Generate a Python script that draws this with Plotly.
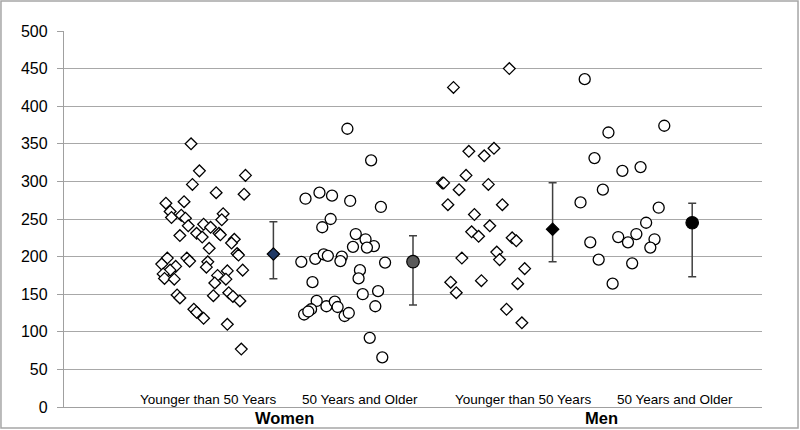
import plotly.graph_objects as go

# ---------------- data ----------------
women_young_x = [0.91, 0.97, 1.30, 0.92, 1.09, 1.29, 0.73, 0.86, 0.76, 0.77, 0.84, 0.87, 1.14, 1.13,
                 0.89, 1.00, 1.05, 0.95, 0.83, 0.99, 1.11, 1.12, 1.22, 1.20, 1.04, 1.24, 1.25, 0.74,
                 0.88, 0.90, 1.03, 0.70, 0.80, 1.02, 0.76, 1.28, 1.17, 0.71, 1.10, 0.72, 0.79, 1.16,
                 1.08, 0.81, 0.83, 1.07, 1.18, 1.21, 1.26, 0.93, 0.95, 1.00, 1.17, 1.27]
women_young_y = [350, 314, 308, 296, 285, 283, 271, 273, 260, 252, 255, 251, 257, 249,
                 241, 243, 239, 231, 228, 226, 231, 229, 223, 218, 211, 204, 202, 198,
                 198, 194, 193, 190, 187, 186, 182, 182, 181, 177, 175, 171, 170, 170,
                 165, 149, 145, 148, 152, 147, 141, 130, 126, 118, 110, 77]

women_old_x = [2.03, 2.20, 1.73, 1.83, 1.92, 2.05, 2.27, 1.91, 1.85, 2.09, 2.16, 2.22, 2.07,
               2.17, 1.70, 1.80, 1.86, 1.89, 1.99, 1.98, 2.30, 2.12, 2.11, 1.78, 2.14, 2.25,
               2.23, 1.81, 1.88, 1.94, 1.96, 1.77, 1.72, 1.75, 2.01, 2.04, 2.19, 2.28]
women_old_y = [370, 328, 277, 285, 281, 274, 266, 250, 239, 230, 223, 214, 213,
               212, 193, 197, 203, 201, 200, 194, 192, 182, 171, 166, 150, 154,
               134, 141, 134, 140, 133, 130, 123, 127, 121, 125, 92, 66]

men_young_x = [3.19, 2.79, 2.90, 3.01, 3.08, 2.88, 2.71, 2.72, 3.04, 2.83, 2.75, 3.14, 2.94,
               3.05, 2.92, 2.97, 3.21, 3.24, 2.85, 3.10, 3.12, 3.30, 2.77, 2.81, 2.99, 3.25,
               3.17, 3.28]
men_young_y = [450, 425, 340, 334, 344, 308, 298, 298, 296, 289, 269, 269, 256,
               241, 233, 227, 225, 221, 198, 206, 196, 184, 166, 152, 168, 164,
               130, 112]

men_old_x = [3.73, 3.90, 4.30, 3.80, 4.00, 4.13, 3.86, 3.70, 4.26, 4.17, 4.10, 3.97, 4.04,
             4.23, 4.20, 3.77, 3.83, 4.07, 3.93]
men_old_y = [436, 365, 374, 331, 314, 319, 289, 272, 265, 245, 230, 226, 219,
             223, 212, 219, 196, 191, 164]

mean_x = [1.5, 2.5, 3.5, 4.5]
mean_vals = [203.5, 193.3, 236.3, 245.0]
upper_vals = [246.5, 227.8, 298.3, 270.9]
lower_vals = [170.6, 135.6, 193.2, 173.3]

category_labels = ["Younger than 50 Years", "50 Years and Older",
                   "Younger than 50 Years", "50 Years and Older"]
sex_labels = ["Women", "Men"]
y_tick_vals = [0, 50, 100, 150, 200, 250, 300, 350, 400, 450, 500]

# ---------------- figure ----------------
fig = go.Figure()

diamond_style = dict(symbol="diamond", size=9, color="white",
                     line=dict(color="black", width=1.3))
circle_style = dict(symbol="circle", size=11, color="white",
                    line=dict(color="black", width=1.3))

for xs, ys, style in [(women_young_x, women_young_y, diamond_style),
                      (women_old_x, women_old_y, circle_style),
                      (men_young_x, men_young_y, diamond_style),
                      (men_old_x, men_old_y, circle_style)]:
    fig.add_trace(go.Scatter(x=xs, y=ys, mode="markers", marker=style,
                             hoverinfo="y", showlegend=False))

mean_symbols = ["diamond", "circle", "diamond", "circle"]
mean_colors = ["#1F3864", "#595959", "#000000", "#000000"]
mean_sizes = [9.5, 12.5, 9.5, 12.5]
for i in range(4):
    fig.add_trace(go.Scatter(
        x=[mean_x[i]], y=[mean_vals[i]], mode="markers",
        marker=dict(symbol=mean_symbols[i], size=mean_sizes[i], color=mean_colors[i],
                    line=dict(color="black", width=1.2)),
        error_y=dict(type="data", symmetric=False,
                     array=[upper_vals[i] - mean_vals[i]],
                     arrayminus=[mean_vals[i] - lower_vals[i]],
                     color="#404040", thickness=1.5, width=4),
        showlegend=False, hoverinfo="y"))

label_x = [1.03, 2.12, 3.29, 4.38]
for lx, txt in zip(label_x, category_labels):
    fig.add_annotation(x=lx, y=0.019, xref="x", yref="paper", text=txt,
                       showarrow=False, xanchor="center", yanchor="middle",
                       font=dict(family="Liberation Sans, Arial", size=13.5, color="black"))
for lx, txt in zip([1.58, 3.85], sex_labels):
    fig.add_annotation(x=lx, y=-0.03, xref="x", yref="paper", text="<b>" + txt + "</b>",
                       showarrow=False, xanchor="center", yanchor="middle",
                       font=dict(family="Liberation Sans, Arial", size=16.5, color="black"))

# outer border of chart area
fig.add_shape(type="rect", xref="paper", yref="paper",
              x0=-0.0903, x1=1.0516, y0=-0.0559, y1=1.0798,
              line=dict(color="#A6A6A6", width=1.5), layer="below")

fig.update_layout(
    width=800, height=430,
    margin=dict(l=64, r=38, t=31, b=23),
    paper_bgcolor="white", plot_bgcolor="white",
    showlegend=False,
    font=dict(family="Liberation Sans, Arial", color="black"),
    xaxis=dict(range=[0, 5], showgrid=False, zeroline=False, showticklabels=False,
               ticks="", showline=True, linecolor="#A0A0A0", linewidth=1.3),
    yaxis=dict(range=[0, 500], tickvals=y_tick_vals, showgrid=True,
               gridcolor="#A8A8A8", gridwidth=1.3, zeroline=False,
               showline=True, linecolor="#A0A0A0", linewidth=1.3,
               ticks="outside", ticklen=6, tickcolor="#A0A0A0", tickwidth=1.3,
               ticklabelstandoff=6,
               tickfont=dict(family="Liberation Sans, Arial", size=16, color="black")),
)

fig.write_html(
    "out.html",
    config={"displayModeBar": False},
    post_script="document.body.style.margin='0';document.body.style.overflow='hidden';",
)
